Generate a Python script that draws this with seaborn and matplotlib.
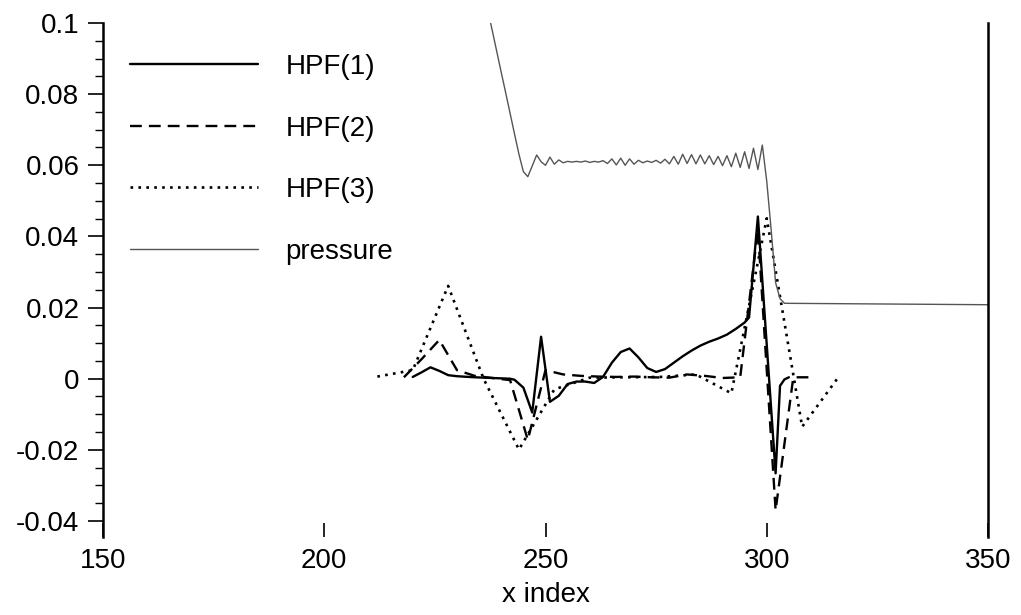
import numpy as np
import pandas as pd
import matplotlib
matplotlib.use("Agg")
import matplotlib.pyplot as plt
import seaborn as sns

# ---------------- data ----------------
hpf1_x = [220, 222, 224, 226, 228, 230, 234, 238, 242, 243, 245, 247, 249, 251,
          253, 255, 257, 259, 261, 263, 265, 267, 269, 271, 273, 275, 277, 279,
          281, 283, 285, 287, 289, 291, 293, 295, 296, 298, 302, 303, 304, 305]
hpf1_y = [0.0005, 0.0018, 0.0032, 0.0022, 0.0010, 0.0007, 0.0004, 0.0002, 0.0,
          -0.0003, -0.0025, -0.0095, 0.0118, -0.0065, -0.0048, -0.0015, -0.0008,
          -0.0008, -0.0012, 0.0005, 0.0045, 0.0075, 0.0085, 0.0060, 0.0030, 0.0019,
          0.0027, 0.0045, 0.0063, 0.0079, 0.0093, 0.0104, 0.0113, 0.0124, 0.0140,
          0.0158, 0.0172, 0.0456, -0.0266, -0.0020, -0.0002, 0.0004]

hpf2_x = [218, 222, 226, 230, 234, 238, 242, 246, 250, 254, 258, 262, 266, 270,
          274, 278, 282, 286, 290, 294, 298, 302, 306, 310]
hpf2_y = [0.0004, 0.0055, 0.0109, 0.0024, 0.0008, 0.0002, -0.0004, -0.0172, 0.0024,
          0.0012, 0.0008, 0.0006, 0.0005, 0.0006, 0.0004, 0.0003, 0.0012, 0.0008,
          0.0002, 0.0004, 0.0420, -0.0370, 0.0004, 0.0004]

hpf3_x = [212, 220, 228, 236, 244, 252, 260, 268, 276, 284, 292, 300, 308, 316]
hpf3_y = [0.0006, 0.0024, 0.0261, 0.0, -0.0199, -0.0030, 0.0003, 0.0004, 0.0005,
          0.0012, -0.0041, 0.0451, -0.0135, 0.0001]

pres_x = list(range(236, 305)) + [350]
pres_y = [0.1091, 0.1034, 0.0977, 0.0919, 0.0861, 0.0804, 0.0746, 0.0688, 0.0631,
          0.0582, 0.0568, 0.0598, 0.0629, 0.0610, 0.0600, 0.0623, 0.0603, 0.0615,
          0.0607, 0.0611, 0.0609, 0.0611, 0.0609, 0.0612, 0.0608, 0.0611, 0.0609,
          0.0613, 0.0605, 0.0618, 0.0601, 0.0620, 0.0600, 0.0618, 0.0603, 0.0614,
          0.0607, 0.0612, 0.0608, 0.0614, 0.0606, 0.0617, 0.0604, 0.0625, 0.0603,
          0.0631, 0.0605, 0.0630, 0.0604, 0.0629, 0.0604, 0.0627, 0.0602, 0.0625,
          0.0599, 0.0627, 0.0596, 0.0634, 0.0594, 0.0638, 0.0591, 0.0648, 0.0588,
          0.0657, 0.0555, 0.0418, 0.0270, 0.0225, 0.0212, 0.0208]

x_ticks = [150, 200, 250, 300, 350]
y_ticks = [-0.04, -0.02, 0.0, 0.02, 0.04, 0.06, 0.08, 0.1]
y_tick_labels = ["-0.04", "-0.02", "0", "0.02", "0.04", "0.06", "0.08", "0.1"]
series_names = ["HPF(1)", "HPF(2)", "HPF(3)", "pressure"]
x_label = "x index"

# ---------------- styling ----------------
sns.set_style("white")
plt.rcParams["font.family"] = ["Liberation Sans", "DejaVu Sans"]
plt.rcParams["axes.unicode_minus"] = False
for key in ["text.color", "axes.labelcolor", "xtick.color", "ytick.color"]:
    plt.rcParams[key] = "black"

fig = plt.figure(figsize=(10.21, 6.15), dpi=100)
ax = fig.add_axes([103 / 1021, 1 - 537 / 615, 885 / 1021, 514 / 615])

frames = [
    pd.DataFrame({"x": hpf1_x, "y": hpf1_y}),
    pd.DataFrame({"x": hpf2_x, "y": hpf2_y}),
    pd.DataFrame({"x": hpf3_x, "y": hpf3_y}),
    pd.DataFrame({"x": pres_x, "y": pres_y}),
]
styles = [
    dict(color="black", linewidth=1.7, linestyle="-"),
    dict(color="black", linewidth=1.7, linestyle=(0, (5, 3))),
    dict(color="black", linewidth=1.9, linestyle=(0, (1, 2.0))),
    dict(color="#555555", linewidth=1.0, linestyle="-"),
]
for df, name, st in zip(frames, series_names, styles):
    sns.lineplot(data=df, x="x", y="y", ax=ax, label=name, errorbar=None,
                 sort=False, **st)

ax.set_xlim(150, 350)
ax.set_ylim(-0.0445, 0.1)

ax.set_xticks(x_ticks)
ax.set_xticklabels([str(t) for t in x_ticks])
ax.set_yticks(y_ticks)
ax.set_yticklabels(y_tick_labels)
ax.set_yticks(np.arange(-0.04, 0.1001, 0.005), minor=True)

ax.tick_params(axis="x", direction="in", length=10, width=1.2, labelsize=20,
               pad=8, bottom=True, top=False, colors="black")
ax.tick_params(axis="y", which="major", direction="out", length=11, width=1.2,
               labelsize=20, pad=6, left=True, right=False, colors="black")
ax.tick_params(axis="y", which="minor", direction="out", length=6, width=1.0,
               left=True, right=False, colors="black")

for side in ["top", "bottom"]:
    ax.spines[side].set_visible(False)
for side in ["left", "right"]:
    ax.spines[side].set_visible(True)
    ax.spines[side].set_linewidth(1.8)
    ax.spines[side].set_color("black")

ax.set_xlabel(x_label, fontsize=20, labelpad=6, color="black")
ax.set_ylabel("")

leg = ax.legend(loc="upper left", bbox_to_anchor=(130 / 1021, 1 - 54 / 615),
                bbox_transform=fig.transFigure, frameon=False, fontsize=20,
                handlelength=4.6, handletextpad=1.0, labelspacing=1.28,
                borderpad=0, borderaxespad=0)
for t in leg.get_texts():
    t.set_color("black")

fig.savefig("out.png", dpi=100)
